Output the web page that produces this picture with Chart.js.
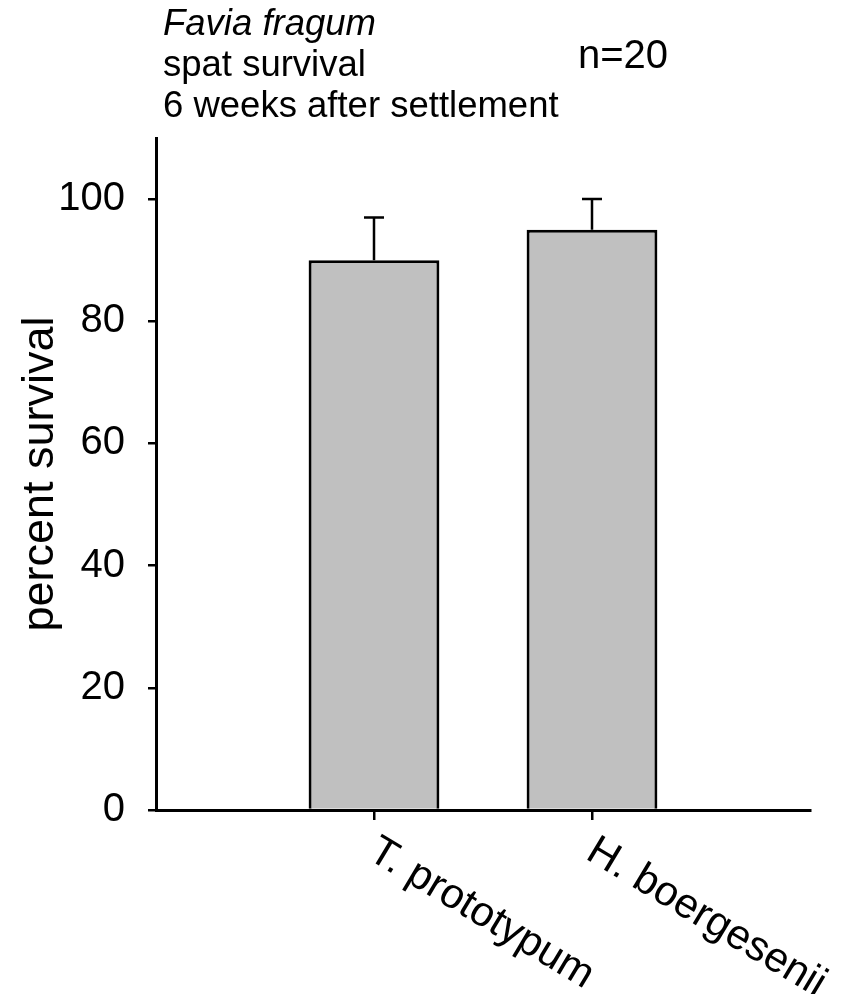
<!DOCTYPE html>
<html>
<head>
<meta charset="utf-8">
<script src="https://cdn.jsdelivr.net/npm/chart.js@4/dist/chart.umd.min.js"></script>
<style>
  html, body { margin: 0; padding: 0; background: #fff; }
  #wrap { width: 841px; height: 994px; position: relative; }
</style>
</head>
<body>
<div id="wrap"><canvas id="chart"></canvas></div>
<script>
// data
const categories = ['', 'T. prototypum', 'H. boergesenii', ''];
const survival = [null, 90, 95, null];
const survivalErr = [null, 7, 5, null];
const yTicks = [0, 20, 40, 60, 80, 100];
const titleLines = ['Favia fragum', 'spat survival', '6 weeks after settlement'];
const sampleNote = 'n=20';

const FONT = "'Liberation Sans', Arial, sans-serif";

// upward error bars with a cap
const errorBars = {
  id: 'errorBars',
  afterDatasetsDraw(chart) {
    const ctx = chart.ctx;
    const y = chart.scales.y;
    const meta = chart.getDatasetMeta(0);
    ctx.save();
    ctx.strokeStyle = '#000';
    ctx.lineWidth = 2.5;
    meta.data.forEach((bar, i) => {
      const v = survival[i], e = survivalErr[i];
      if (v == null || e == null) return;
      const top = y.getPixelForValue(v + e);
      ctx.beginPath();
      ctx.moveTo(bar.x, bar.y);
      ctx.lineTo(bar.x, top);
      ctx.moveTo(bar.x - 10, top);
      ctx.lineTo(bar.x + 10, top);
      ctx.stroke();
    });
    ctx.restore();
  }
};

// heading text + slanted category labels
const annotations = {
  id: 'annotations',
  afterDraw(chart) {
    const ctx = chart.ctx;
    const x = chart.scales.x;
    ctx.save();
    ctx.fillStyle = '#000';
    ctx.textAlign = 'left';
    ctx.textBaseline = 'alphabetic';
    titleLines.forEach((line, i) => {
      ctx.font = (i === 0 ? 'italic ' : '') + '36.5px ' + FONT;
      ctx.fillText(line, 163, 35 + i * 41);
    });
    ctx.font = '40px ' + FONT;
    ctx.fillText(sampleNote, 578, 68);

    ctx.font = '42px ' + FONT;
    ctx.textBaseline = 'top';
    categories.forEach((label, i) => {
      if (!label) return;
      const px = x.getPixelForValue(i);
      ctx.save();
      ctx.translate(px + 9, 830);
      ctx.rotate(31 * Math.PI / 180);
      ctx.fillText(label, 0, 0);
      ctx.restore();
    });
    ctx.restore();
  }
};

new Chart(document.getElementById('chart'), {
  type: 'bar',
  data: {
    labels: categories,
    datasets: [{
      data: survival,
      backgroundColor: '#c0c0c0',
      borderColor: '#000',
      borderWidth: 3,
      categoryPercentage: 1,
      barPercentage: 0.6
    }]
  },
  options: {
    responsive: true,
    maintainAspectRatio: false,
    animation: false,
    layout: { padding: { top: 138, right: 31, left: 0, bottom: 0 } },
    plugins: { legend: { display: false }, tooltip: { enabled: false } },
    scales: {
      x: {
        offset: false,
        grid: {
          offset: false,
          drawOnChartArea: false,
          drawTicks: true,
          tickLength: 10,
          lineWidth: 2.5,
          color: c => (categories[c.index] ? '#000' : 'rgba(0,0,0,0)')
        },
        border: { display: true, color: '#000', width: 3 },
        ticks: { display: false },
        afterFit: s => { s.height = 184; }
      },
      y: {
        min: 0,
        max: 110,
        afterBuildTicks: s => { s.ticks = yTicks.map(v => ({ value: v })); },
        grid: {
          drawOnChartArea: false,
          drawTicks: true,
          tickLength: 8,
          lineWidth: 2.5,
          color: '#000'
        },
        border: { display: true, color: '#000', width: 3 },
        ticks: {
          color: '#000',
          padding: 23,
          font: { family: FONT, size: 40 }
        },
        title: {
          display: true,
          text: 'percent survival',
          color: '#000',
          padding: { top: 14, bottom: 0 },
          font: { family: FONT, size: 45 }
        },
        afterFit: s => { s.width = 156; }
      }
    }
  },
  plugins: [errorBars, annotations]
});
</script>
</body>
</html>
